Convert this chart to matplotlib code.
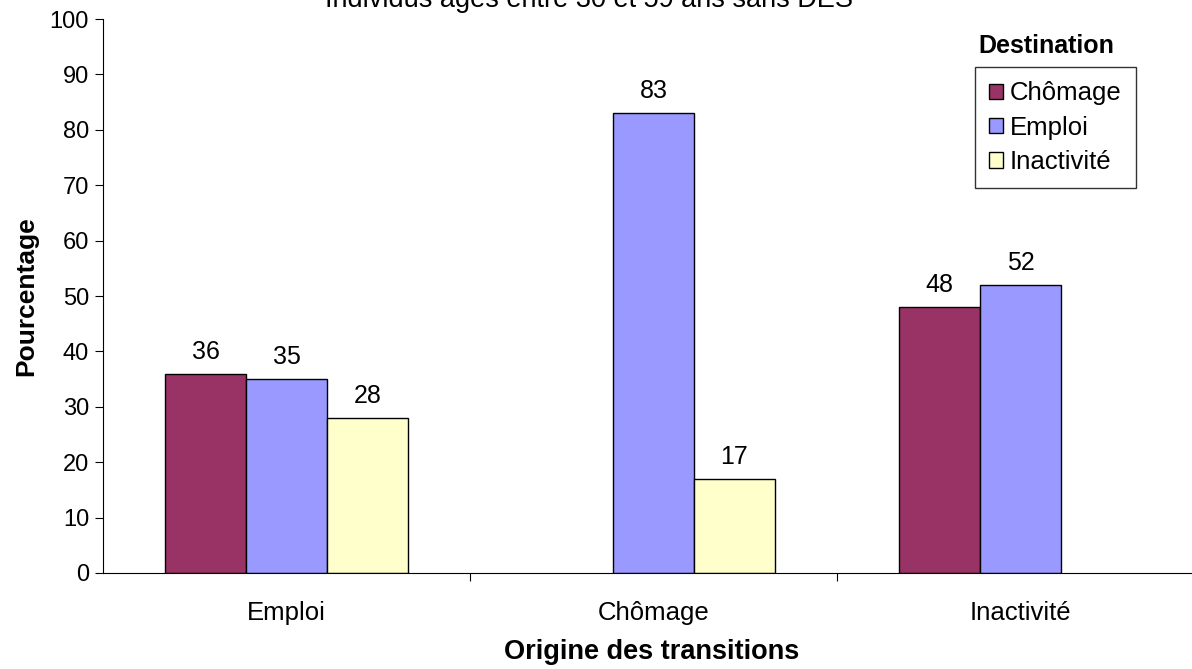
import numpy as np
import matplotlib.pyplot as plt

plt.rcParams['font.family'] = ['Liberation Sans', 'DejaVu Sans']

# donnees
origines = ['Emploi', 'Chômage', 'Inactivité']
destinations = ['Chômage', 'Emploi', 'Inactivité']
chomage = [36, None, 48]
emploi = [35, 83, 52]
inactivite = [28, 17, None]
couleurs = ['#993366', '#9999FF', '#FFFFCC']

fig = plt.figure(figsize=(11.92, 6.69), dpi=100)
ax = fig.add_axes([0.0864, 0.1435, 0.9237, 0.828])

x = np.arange(len(origines))
w = 0.22
for k, (serie, nom, c) in enumerate(zip([chomage, emploi, inactivite], destinations, couleurs)):
    pos = [xi + (k - 1) * w for xi, v in zip(x, serie) if v is not None]
    vals = [v for v in serie if v is not None]
    bars = ax.bar(pos, vals, width=w, color=c, edgecolor='black', linewidth=1, label=nom)
    for b, v in zip(bars, vals):
        ax.text(b.get_x() + b.get_width() / 2, v + 1.8, str(v), ha='center', va='bottom', fontsize=18)

ax.set_xlim(-0.5, 2.5)
ax.set_ylim(0, 100)
ax.set_yticks(np.arange(0, 101, 10))
ax.set_xticks([0.5, 1.5], minor=False)
ax.set_xticklabels([])
ax.set_xticks(x, minor=True)
ax.set_xticklabels(origines, minor=True, fontsize=18.5)
ax.tick_params(axis='x', which='minor', length=0, pad=20)
ax.tick_params(axis='x', which='major', length=6, direction='out')
ax.tick_params(axis='y', length=6, labelsize=17, pad=4)
ax.spines['top'].set_visible(False)
ax.spines['right'].set_visible(False)

ax.set_ylabel('Pourcentage', fontsize=19, fontweight='bold', labelpad=8)
fig.text(0.547, 0.025, 'Origine des transitions', ha='center', va='center', fontsize=19.5, fontweight='bold')
fig.text(0.494, 0.989, 'Individus âgés entre 30 et 59 ans sans DES', ha='center', va='baseline', fontsize=19.5)

leg = ax.legend(loc='upper left', bbox_to_anchor=(0.792, 0.913), fontsize=18.5, frameon=True,
                fancybox=False, edgecolor='black', handlelength=0.55, handleheight=0.55,
                handletextpad=0.25, borderpad=0.55, labelspacing=0.4, borderaxespad=0)
leg.get_frame().set_linewidth(1)
fig.text(0.878, 0.931, 'Destination', ha='center', va='center', fontsize=18, fontweight='bold')

plt.savefig('out.png', dpi=100)
